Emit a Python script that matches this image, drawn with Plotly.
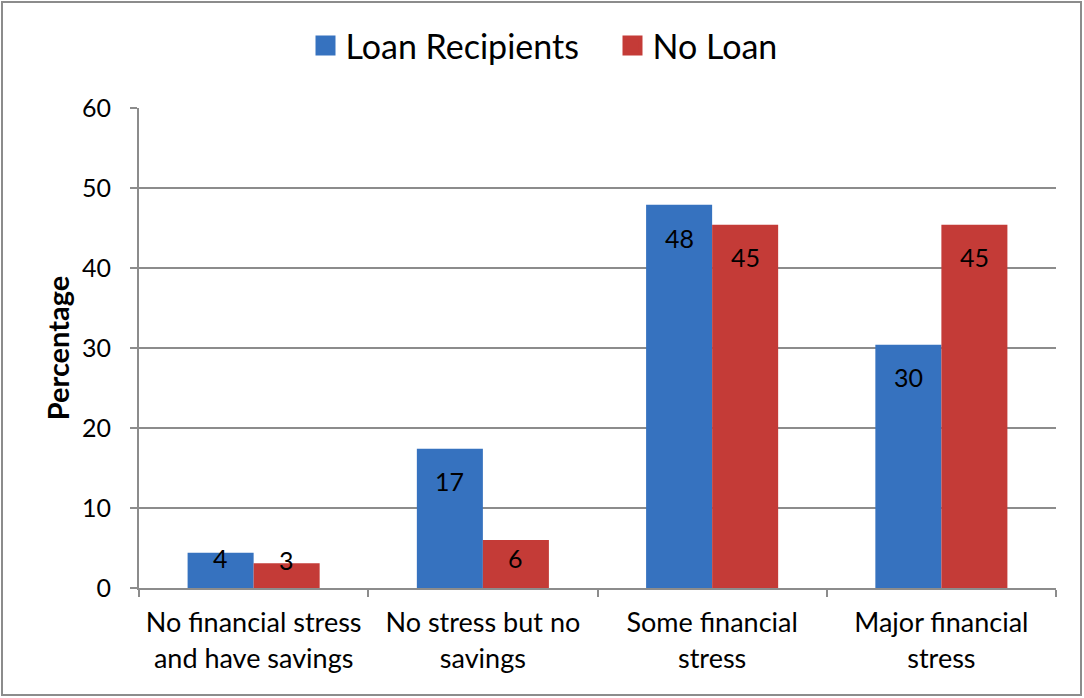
import plotly.graph_objects as go

categories = [
    "No financial stress<br>and have savings",
    "No stress but no<br>savings",
    "Some financial<br>stress",
    "Major financial<br>stress",
]
loan_recipients = [4.4, 17.4, 47.9, 30.4]
no_loan = [3.1, 6.0, 45.4, 45.4]
y_ticks = [0, 10, 20, 30, 40, 50, 60]

# pixel offsets of the value labels from each bar top
blue_label_shift = [-5, -32, -33, -32]
red_label_shift = [3, -18, -32, -32]

FONT = "Lato"
BLUE = "#3672bf"
RED = "#c43b37"
GRID = "#8c8c8c"

fig = go.Figure()
fig.add_trace(go.Bar(name="Loan Recipients", x=categories, y=loan_recipients,
                     marker=dict(color=BLUE, line=dict(width=0)),
                     showlegend=False, legendgroup="a"))
fig.add_trace(go.Bar(name="No Loan", x=categories, y=no_loan,
                     marker=dict(color=RED, line=dict(width=0)),
                     showlegend=False, legendgroup="b"))
# legend entries with larger square swatches
fig.add_trace(go.Scatter(name="Loan Recipients", x=[None], y=[None], mode="markers",
                         marker=dict(symbol="square", size=20, color=BLUE,
                                     line=dict(color=BLUE, width=4)),
                         legendgroup="a", legendwidth=262))
fig.add_trace(go.Scatter(name="No Loan", x=[None], y=[None], mode="markers",
                         marker=dict(symbol="square", size=20, color=RED,
                                     line=dict(color=RED, width=4)),
                         legendgroup="b"))

annotations = []
for series, shifts, side in ((loan_recipients, blue_label_shift, -1),
                             (no_loan, red_label_shift, 1)):
    for i, (cat, v) in enumerate(zip(categories, series)):
        annotations.append(dict(
            x=cat, y=v, xref="x", yref="y", text=f"{v:.0f}",
            showarrow=False, yanchor="middle", yshift=shifts[i],
            xshift=33 * side,
            font=dict(family=FONT, size=25, color="black")))

W, H = 1084, 698
ml, mr, mt, mb = 139, 28, 108, 110
pw, ph = W - ml - mr, H - mt - mb

def px_x(p):
    return (p - ml) / pw

def px_y(p):
    return (H - mb - p) / ph

fig.update_layout(
    width=W, height=H,
    margin=dict(l=ml, r=mr, t=mt, b=mb),
    paper_bgcolor="white", plot_bgcolor="white",
    barmode="group", bargap=0.424, bargroupgap=0,
    font=dict(family=FONT, size=24, color="black"),
    legend=dict(orientation="h", x=px_x(544), xanchor="center",
                y=px_y(46), yanchor="middle",
                font=dict(family=FONT, size=34), itemwidth=30,
                tracegroupgap=0),
    annotations=annotations,
    shapes=[dict(type="rect", xref="paper", yref="paper",
                 x0=px_x(2), x1=px_x(1081), y0=px_y(695), y1=px_y(2),
                 line=dict(color="#8c8c8c", width=2), layer="below")],
)
fig.update_xaxes(
    showline=True, linecolor=GRID, linewidth=2,
    ticks="outside", ticklen=7, tickcolor=GRID, tickwidth=2,
    tickson="boundaries", showgrid=False,
    tickfont=dict(family=FONT, size=27), ticklabelstandoff=10,
)
fig.update_yaxes(
    range=[0, 60], tickvals=y_ticks, showline=True, linecolor=GRID, linewidth=2,
    ticks="outside", ticklen=7, tickcolor=GRID, tickwidth=2,
    showgrid=True, gridcolor=GRID, gridwidth=2, zeroline=False,
    tickfont=dict(family=FONT, size=25), ticklabelstandoff=14,
    title=dict(text="<b>Percentage</b>", font=dict(family=FONT, size=29), standoff=4),
)

fig.write_html("out.html")
